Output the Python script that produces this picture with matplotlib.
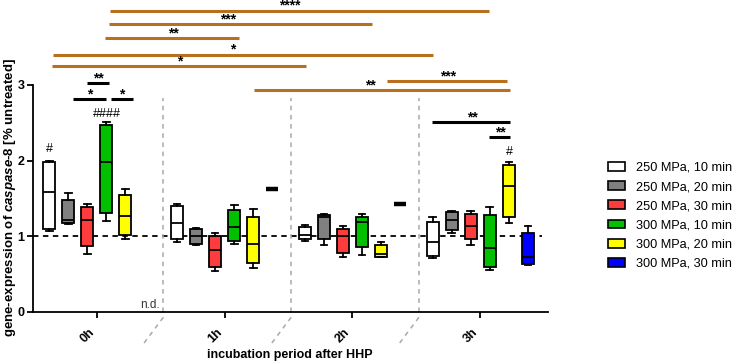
import matplotlib
matplotlib.use('Agg')
import matplotlib.pyplot as plt
from matplotlib.patches import Patch

plt.rcParams['font.family'] = ['Liberation Sans', 'DejaVu Sans']
plt.rcParams['mathtext.fontset'] = 'custom'
plt.rcParams['mathtext.it'] = 'Liberation Sans:italic:bold'
plt.rcParams['mathtext.rm'] = 'Liberation Sans:bold'

# data: rows = treatment, cols = 0h, 1h, 2h, 3h (None = n.d.)
groups = ['0h', '1h', '2h', '3h']
treatments = ['250 MPa, 10 min', '250 MPa, 20 min', '250 MPa, 30 min',
              '300 MPa, 10 min', '300 MPa, 20 min', '300 MPa, 30 min']
colors = ['white', '#808080', '#FF3C3C', '#00C000', '#FFFF00', '#0000FF']

whislo = [[1.07, 0.92, 0.94, 0.71],
          [1.16, 0.88, 0.88, 1.04],
          [0.76, 0.54, 0.72, 0.89],
          [1.20, 0.90, 0.75, 0.55],
          [0.97, 0.58, 0.73, 1.18],
          [None, 1.62, 1.42, 0.62]]
q1 = [[1.10, 0.96, 0.96, 0.74],
      [1.17, 0.90, 0.97, 1.08],
      [0.87, 0.59, 0.78, 0.96],
      [1.31, 0.94, 0.86, 0.59],
      [1.02, 0.65, 0.73, 1.26],
      [None, 1.62, 1.42, 0.63]]
med = [[1.59, 1.18, 1.02, 0.92],
       [1.21, 1.00, 1.25, 1.22],
       [1.22, 0.82, 1.00, 1.14],
       [1.98, 1.12, 1.19, 0.84],
       [1.27, 0.90, 0.77, 1.66],
       [None, 1.62, 1.42, 0.73]]
q3 = [[1.98, 1.40, 1.12, 1.19],
      [1.48, 1.10, 1.28, 1.32],
      [1.38, 1.00, 1.10, 1.29],
      [2.47, 1.35, 1.26, 1.28],
      [1.55, 1.25, 0.89, 1.94],
      [None, 1.62, 1.42, 1.04]]
whishi = [[1.99, 1.43, 1.15, 1.25],
          [1.57, 1.11, 1.30, 1.34],
          [1.42, 1.04, 1.13, 1.33],
          [2.51, 1.41, 1.29, 1.38],
          [1.62, 1.36, 0.92, 1.98],
          [None, 1.62, 1.42, 1.13]]
# groups where only one value exists (drawn as a single bar)
single = [(5, 1), (5, 2)]

step = 0.149
bw = 0.094

def pos(g, t):
    return g + (t - 2.5) * step

fig = plt.figure(figsize=(7.4, 3.64), dpi=100)
ax = fig.add_axes([33 / 740, 52 / 364, 515 / 740, 312 / 364])
ax.set_xlim(-0.5, 3.53)
ax.set_ylim(0, 4.12)

for t in range(len(treatments)):
    for g in range(len(groups)):
        if whislo[t][g] is None:
            continue
        x = pos(g, t)
        if (t, g) in single:
            ax.hlines(med[t][g], x - bw / 2, x + bw / 2, color='black', lw=3.2, zorder=3)
            continue
        st = [dict(whislo=whislo[t][g], q1=q1[t][g], med=med[t][g],
                   q3=q3[t][g], whishi=whishi[t][g])]
        ax.bxp(st, positions=[x], widths=bw, capwidths=bw * 0.55,
               patch_artist=True, showfliers=False, manage_ticks=False,
               boxprops=dict(facecolor=colors[t], edgecolor='black', linewidth=1.3),
               medianprops=dict(color='black', linewidth=1.3),
               whiskerprops=dict(color='black', linewidth=1.3),
               capprops=dict(color='black', linewidth=1.3), zorder=3)

# reference line and group separators
ax.plot([-0.5, 3.48], [1, 1], color='black', ls=(0, (3, 2.5)), lw=1.3, zorder=2)
for g in range(3):
    sx = g + 0.52
    ax.plot([sx, sx], [0, 2.82], color='#A8A8A8', ls=(0, (3, 3)), lw=1.1)
    ax.plot([sx, sx - 0.16], [-0.07, -0.43], color='#A8A8A8', ls=(0, (3, 3)),
            lw=1.1, clip_on=False)
ax.text(0.415, 0.09, 'n.d.', fontsize=8.5, color='#333333', ha='center', va='center')

# significance brackets (x1, x2, y, label, colour, label x)
brown = '#B8701E'
brackets = [
    (0.10, 3.07, 3.98, '****', brown, 1.51),
    (0.094, 2.15, 3.80, '***', brown, 1.03),
    (0.063, 1.11, 3.62, '**', brown, 0.60),
    (-0.345, 2.63, 3.40, '*', brown, 1.06),
    (-0.352, 1.64, 3.25, '*', brown, 0.65),
    (2.27, 3.21, 3.05, '***', brown, 2.75),
    (1.23, 3.23, 2.93, '**', brown, 2.14),
    (-0.078, 0.094, 3.02, '**', 'black', 0.008),
    (-0.188, 0.07, 2.81, '*', 'black', -0.06),
    (0.11, 0.28, 2.81, '*', 'black', 0.196),
    (2.62, 3.23, 2.51, '**', 'black', 2.94),
    (3.07, 3.23, 2.31, '**', 'black', 3.16),
]
for x1, x2, y, lab, c, tx in brackets:
    ax.plot([x1, x2], [y, y], color=c, lw=2.2, solid_capstyle='butt', clip_on=False)
    ax.text(tx, y + 0.01, lab, fontsize=10, fontweight='bold', ha='center',
            va='baseline', color='black')

hashes = [(0.078, 2.62, '####'), (3.23, 2.11, '#'), (-0.37, 2.15, '#')]
for x, y, lab in hashes:
    ax.text(x, y, lab, fontsize=9, ha='center', va='center', color='black')

# axes styling
for s in ['top', 'right']:
    ax.spines[s].set_visible(False)
ax.spines['left'].set_bounds(0, 3)
ax.spines['left'].set_linewidth(1.3)
ax.spines['bottom'].set_linewidth(1.3)
ax.set_yticks([0, 1, 2, 3])
ax.set_yticklabels(['0', '1', '2', '3'], fontsize=9, fontweight='bold')
ax.set_xticks(range(len(groups)))
ax.set_xticklabels(groups, fontsize=9, fontweight='bold', rotation=45, ha='right')
ax.tick_params(axis='both', length=4, width=1.3, pad=2)
ax.tick_params(axis='x', pad=6)

fig.text(10 / 740, 1 - 198 / 364,
         r'gene-expression of $\mathit{caspase}$-$\mathit{8}$ [% untreated]',
         rotation=90, ha='center', va='center', fontsize=9.5, fontweight='bold')
fig.text(290 / 740, 1 - 355 / 364, 'incubation period after HHP',
         ha='center', va='center', fontsize=9, fontweight='bold')

handles = [Patch(facecolor=c, edgecolor='black', linewidth=1.2) for c in colors]
fig.legend(handles, treatments, loc='upper left', bbox_to_anchor=(608 / 740, 1 - 162 / 364),
           frameon=False, fontsize=9.2, handlelength=1.33, handleheight=0.7,
           handletextpad=0.86, labelspacing=0.56, borderpad=0, borderaxespad=0)

fig.savefig('out.png', dpi=100)
